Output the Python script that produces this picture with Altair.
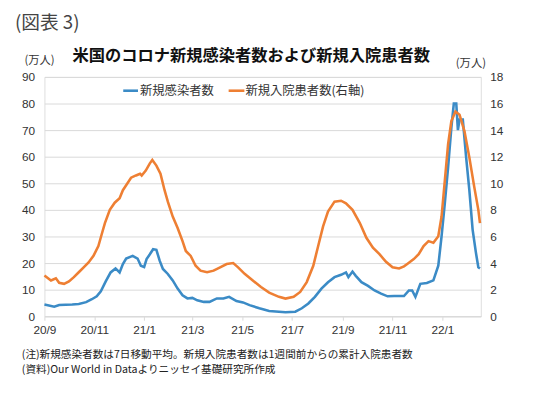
import altair as alt
import pandas as pd

# 新規感染者数 (7日移動平均, 万人) - left axis
case_dates = [
    "2020-09-01", "2020-09-13", "2020-09-19", "2020-10-05", "2020-10-13", "2020-10-22",
    "2020-10-29", "2020-11-04", "2020-11-09", "2020-11-15", "2020-11-21", "2020-11-27",
    "2020-12-02", "2020-12-06", "2020-12-10", "2020-12-18", "2020-12-24", "2020-12-28",
    "2021-01-01", "2021-01-04", "2021-01-08", "2021-01-12", "2021-01-16", "2021-01-20",
    "2021-01-24", "2021-01-30", "2021-02-05", "2021-02-11", "2021-02-17", "2021-02-23",
    "2021-03-01", "2021-03-07", "2021-03-15", "2021-03-22", "2021-03-31", "2021-04-08",
    "2021-04-15", "2021-04-24", "2021-05-02", "2021-05-10", "2021-05-22", "2021-06-03",
    "2021-06-15", "2021-06-23", "2021-07-05", "2021-07-13", "2021-07-21", "2021-07-29",
    "2021-08-06", "2021-08-14", "2021-08-22", "2021-08-30", "2021-09-05", "2021-09-08",
    "2021-09-13", "2021-09-17", "2021-09-24", "2021-10-02", "2021-10-10", "2021-10-18",
    "2021-10-26", "2021-11-03", "2021-11-15", "2021-11-21", "2021-11-25", "2021-11-29",
    "2021-12-05", "2021-12-13", "2021-12-21", "2021-12-27", "2021-12-31", "2022-01-04",
    "2022-01-08", "2022-01-12", "2022-01-15", "2022-01-18", "2022-01-20", "2022-01-22",
    "2022-01-26", "2022-01-30", "2022-02-03", "2022-02-07", "2022-02-11", "2022-02-14",
    "2022-02-16",
]
case_values = [
    4.4, 3.6, 4.2, 4.4, 4.6, 5.3,
    6.4, 7.5, 9.4, 13.1, 16.5, 18.0,
    16.5, 19.6, 21.7, 22.7, 21.7, 19.0,
    18.5, 21.5, 23.3, 25.2, 25.0, 20.9,
    17.8, 15.9, 13.5, 10.4, 7.9, 6.7,
    6.9, 6.0, 5.4, 5.4, 6.7, 6.7,
    7.3, 5.7, 5.2, 4.2, 3.0, 2.0,
    1.7, 1.5, 1.7, 3.0, 4.8, 7.3,
    10.4, 12.8, 14.7, 15.6, 16.5, 14.7,
    16.8, 15.2, 12.8, 11.4, 9.7, 8.5,
    7.5, 7.6, 7.6, 9.7, 9.7, 7.3,
    12.2, 12.5, 13.5, 19.0, 30.0, 42.5,
    56.0, 70.9, 80.0, 80.0, 70.0, 74.0,
    74.0, 60.0, 47.4, 32.6, 24.0, 18.4,
    18.0,
]

# 新規入院患者数 (1週間累計, 万人) - right axis
hosp_dates = [
    "2020-09-01", "2020-09-09", "2020-09-15", "2020-09-19", "2020-09-25", "2020-10-01",
    "2020-10-07", "2020-10-13", "2020-10-19", "2020-10-25", "2020-10-31", "2020-11-06",
    "2020-11-10", "2020-11-14", "2020-11-20", "2020-11-26", "2020-12-02", "2020-12-06",
    "2020-12-10", "2020-12-16", "2020-12-22", "2020-12-27", "2020-12-29", "2021-01-03",
    "2021-01-08", "2021-01-11", "2021-01-16", "2021-01-21", "2021-01-26", "2021-01-30",
    "2021-02-05", "2021-02-11", "2021-02-17", "2021-02-21", "2021-02-27", "2021-03-05",
    "2021-03-11", "2021-03-19", "2021-03-27", "2021-04-04", "2021-04-12", "2021-04-20",
    "2021-04-26", "2021-05-04", "2021-05-14", "2021-05-24", "2021-06-03", "2021-06-15",
    "2021-06-23", "2021-07-03", "2021-07-11", "2021-07-19", "2021-07-27", "2021-08-02",
    "2021-08-08", "2021-08-14", "2021-08-22", "2021-08-30", "2021-09-05", "2021-09-13",
    "2021-09-22", "2021-09-30", "2021-10-08", "2021-10-16", "2021-10-24", "2021-11-01",
    "2021-11-09", "2021-11-15", "2021-11-19", "2021-11-27", "2021-12-03", "2021-12-09",
    "2021-12-15", "2021-12-21", "2021-12-27", "2021-12-31", "2022-01-04", "2022-01-08",
    "2022-01-12", "2022-01-17", "2022-01-22", "2022-01-28", "2022-02-03", "2022-02-09",
    "2022-02-14", "2022-02-16",
]
hosp_values = [
    3.06, 2.69, 2.86, 2.52, 2.44, 2.62,
    2.94, 3.31, 3.68, 4.05, 4.54, 5.28,
    6.15, 7.01, 8.0, 8.54, 8.87, 9.48,
    9.85, 10.42, 10.59, 10.72, 10.59, 10.96,
    11.5, 11.75, 11.33, 10.72, 9.48, 8.62,
    7.5, 6.64, 5.65, 4.91, 4.54, 3.8,
    3.43, 3.31, 3.43, 3.68, 3.93, 4.0,
    3.68, 3.19, 2.69, 2.2, 1.78, 1.46,
    1.33, 1.46, 1.83, 2.57, 3.8, 5.28,
    6.76, 7.88, 8.62, 8.69, 8.49, 8.0,
    7.01, 5.9, 5.16, 4.67, 4.1, 3.68,
    3.6, 3.75, 3.93, 4.3, 4.67, 5.28,
    5.65, 5.53, 6.02, 7.5, 10.2, 12.94,
    14.67, 15.4, 15.16, 13.93, 11.95, 9.73,
    8.0, 7.01,
]

x_tick_dates = ["2020-09-01", "2020-11-01", "2021-01-01", "2021-03-01", "2021-05-01",
                "2021-07-01", "2021-09-01", "2021-11-01", "2022-01-01"]
x_domain = ["2020-09-01", "2022-02-17"]
left_ticks = [0, 10, 20, 30, 40, 50, 60, 70, 80, 90]
right_ticks = [0, 2, 4, 6, 8, 10, 12, 14, 16, 18]

fig_label = "(図表 3)"
title_text = "米国のコロナ新規感染者数および新規入院患者数"
unit_text = "(万人)"
legend_cases = "新規感染者数"
legend_hosp = "新規入院患者数(右軸)"
note1 = "(注)新規感染者数は7日移動平均。新規入院患者数は1週間前からの累計入院患者数"
note2 = "(資料)Our World in Dataよりニッセイ基礎研究所作成"

BLUE = "#3b8bc6"
ORANGE = "#ee7f33"
JP = "Noto Sans CJK JP"
NUM = "Liberation Sans"


def dt(s):
    y, m, d = (int(v) for v in s.split("-"))
    return alt.DateTime(year=y, month=m, date=d)


cases_df = pd.DataFrame({"date": pd.to_datetime(case_dates), "v": case_values})
hosp_df = pd.DataFrame({"date": pd.to_datetime(hosp_dates), "v": hosp_values})

x_enc = alt.X(
    "date:T",
    scale=alt.Scale(domain=[dt(s) for s in x_domain]),
    axis=alt.Axis(
        values=[dt(s) for s in x_tick_dates], format="%y/%-m", title=None,
        labelAngle=0, labelFont=NUM, labelFontSize=12, labelColor="#333333",
        labelPadding=4, domainColor="#d9d9d9", tickColor="#d9d9d9", tickSize=4,
        grid=False, labelFlush=False,
    ),
)

cases_line = alt.Chart(cases_df).mark_line(color=BLUE, strokeWidth=2.6).encode(
    x=x_enc,
    y=alt.Y("v:Q", scale=alt.Scale(domain=[0, 90], nice=False),
            axis=alt.Axis(values=left_ticks, title=None, orient="left", grid=True,
                          gridColor="#d9d9d9", domain=False, ticks=False,
                          labelFont=NUM, labelFontSize=12, labelColor="#333333",
                          labelPadding=10)),
)

hosp_line = alt.Chart(hosp_df).mark_line(color=ORANGE, strokeWidth=2.6).encode(
    x=x_enc,
    y=alt.Y("v:Q", scale=alt.Scale(domain=[0, 18], nice=False),
            axis=alt.Axis(values=right_ticks, title=None, orient="right", grid=False,
                          domain=False, ticks=False, labelFont=NUM, labelFontSize=12,
                          labelColor="#333333", labelPadding=9)),
)

lines = alt.layer(cases_line, hosp_line).resolve_scale(y="independent")


def label(text, x, y, size=12, align="left", weight="normal", color="#333333"):
    return alt.Chart(pd.DataFrame({"t": [text]})).mark_text(
        align=align, baseline="middle", font=JP, fontSize=size,
        fontWeight=weight, color=color,
    ).encode(text="t:N", x=alt.value(x), y=alt.value(y))


def swatch(color, x1, x2, y):
    return alt.Chart(pd.DataFrame({"k": [0]})).mark_rule(
        color=color, strokeWidth=2.6
    ).encode(x=alt.value(x1), x2=alt.value(x2), y=alt.value(y))


texts = [
    label(fig_label, -30, -55, size=19, color="#444444"),
    label(title_text, 210, -21, size=16.5, align="center", weight="bold", color="#111111"),
    label(unit_text, -5, -16, size=11.5, align="center"),
    label(unit_text, 433, -13, size=11.5, align="center"),
    swatch(BLUE, 80, 95, 14),
    label(legend_cases, 97, 14, size=12.5),
    swatch(ORANGE, 187, 203, 14),
    label(legend_hosp, 204, 14, size=12.5),
    label(note1, -23, 282, size=10.8, color="#222222"),
    label(note2, -23, 298, size=10.8, color="#222222"),
]

chart = alt.layer(lines, *texts).properties(
    width=443, height=243,
    autosize=alt.AutoSizeParams(type="none"),
    padding={"left": 37, "top": 67, "right": 52, "bottom": 79},
).configure_view(stroke=None).configure(background="white")

chart.save("out.html", embed_options={"renderer": "svg", "actions": False})
